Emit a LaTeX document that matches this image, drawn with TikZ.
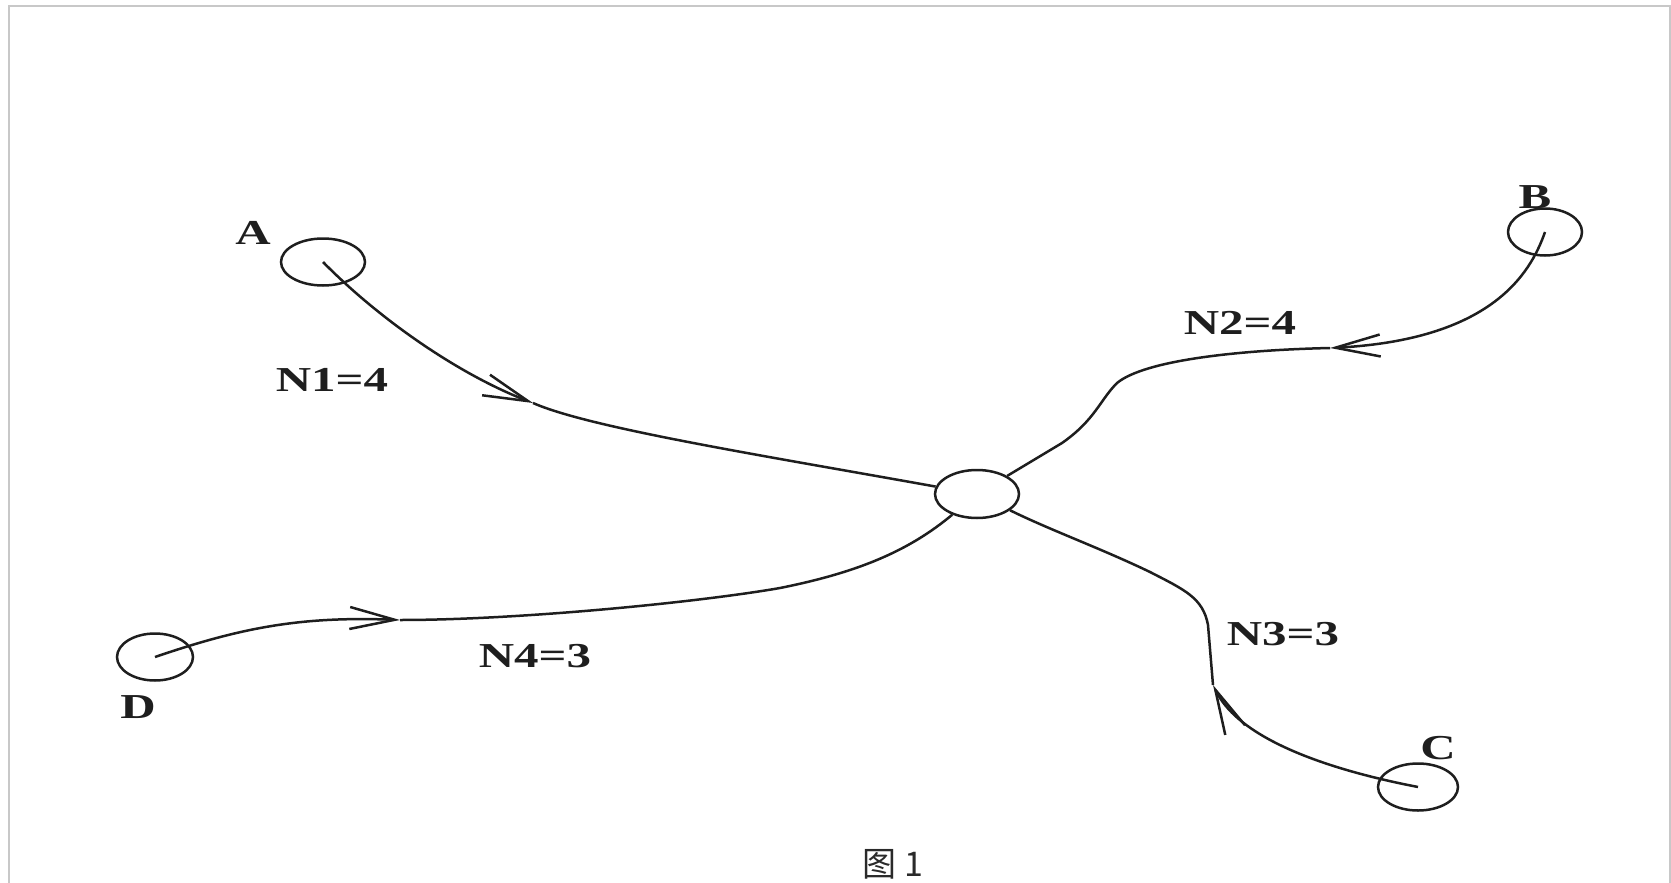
\documentclass[tikz,border=0pt]{standalone}
\usepackage{fontspec}
\setmainfont{Liberation Serif}
\newfontfamily\labfont[FakeStretch=1.4]{Liberation Serif}
\newfontfamily\cjkfont{Noto Sans CJK SC}
\usetikzlibrary{shapes.geometric,arrows.meta}
\definecolor{ink}{HTML}{1E1E1E}
\definecolor{framegray}{HTML}{C8C8C8}
\definecolor{capink}{HTML}{2A2A2A}
\begin{document}
\begin{tikzpicture}[x=1pt,y=-1pt,
  station/.style={draw=ink, line width=2.5pt, ellipse, inner sep=0pt},
  flow/.style={draw=ink, line width=2.5pt},
  arr/.style={-{Straight Barb[length=45pt,width=22pt]}},
  lab/.style={font=\labfont\bfseries\fontsize{35}{37}\selectfont, text=ink, inner sep=0pt},
  framebox/.style={draw=framegray, line width=2pt}
]
\useasboundingbox (0,0) rectangle (1671,883);
% frame
\coordinate (f1) at (9,883);
\coordinate (f2) at (9,6);
\coordinate (f3) at (1670,6);
\coordinate (f4) at (1670,883);
\draw[framebox] (f1) -- (f2) -- (f3) -- (f4);

% stations
\node[station, minimum width=84pt, minimum height=47pt] (A) at (323,262) {};
\node[station, minimum width=74pt, minimum height=47pt] (B) at (1545,232) {};
\node[station, minimum width=80pt, minimum height=47pt] (C) at (1418,787) {};
\node[station, minimum width=76pt, minimum height=47pt] (D) at (155,657) {};
\node[station, minimum width=84pt, minimum height=48pt] (O) at (977,494) {};

% letters
\node[lab] (lA) at (253,233) {A};
\node[lab] (lB) at (1535,197) {B};
\node[lab] (lC) at (1438,748) {C};
\node[lab] (lD) at (138,707) {D};

% flow labels
\node[lab] (n1) at (332,380) {N1=4};
\node[lab] (n2) at (1240,323) {N2=4};
\node[lab] (n3) at (1283,634) {N3=3};
\node[lab] (n4) at (535,656) {N4=3};

% arrow points
\coordinate (a1) at (533,403);
\coordinate (b1) at (1330,348);
\coordinate (c1) at (1213,685);
\coordinate (d1) at (400,620);

% A -> O
\draw[flow, arr] (A.center) .. controls (380,320) and (460,375) .. (a1);
\draw[flow] (a1) .. controls (590,428) and (760,455) .. (O);

% B -> O
\draw[flow, arr] (B.center) .. controls (1530,275) and (1490,340) .. (b1);
\draw[flow] (b1) .. controls (1240,350) and (1145,360) .. (1117,383)
  .. controls (1100,400) and (1095,420) .. (1062,443) -- (O);

% C -> O
\draw[flow, arr] (C.center) .. controls (1330,770) and (1240,740) .. (c1);
\draw[flow] (c1) -- (1208,625) .. controls (1203,598) and (1185,590) .. (1150,572)
  .. controls (1100,548) and (1050,530) .. (O);

% D -> O
\draw[flow, arr] (D.center) .. controls (240,628) and (300,616) .. (d1);
\draw[flow] (d1) .. controls (520,620) and (700,602) .. (780,588)
  .. controls (860,572) and (910,550) .. (O);

% caption
\node[font=\cjkfont\fontsize{34}{36}\selectfont, text=capink, inner sep=0pt] (cap) at (893,864) {图 1};
\end{tikzpicture}
\end{document}
